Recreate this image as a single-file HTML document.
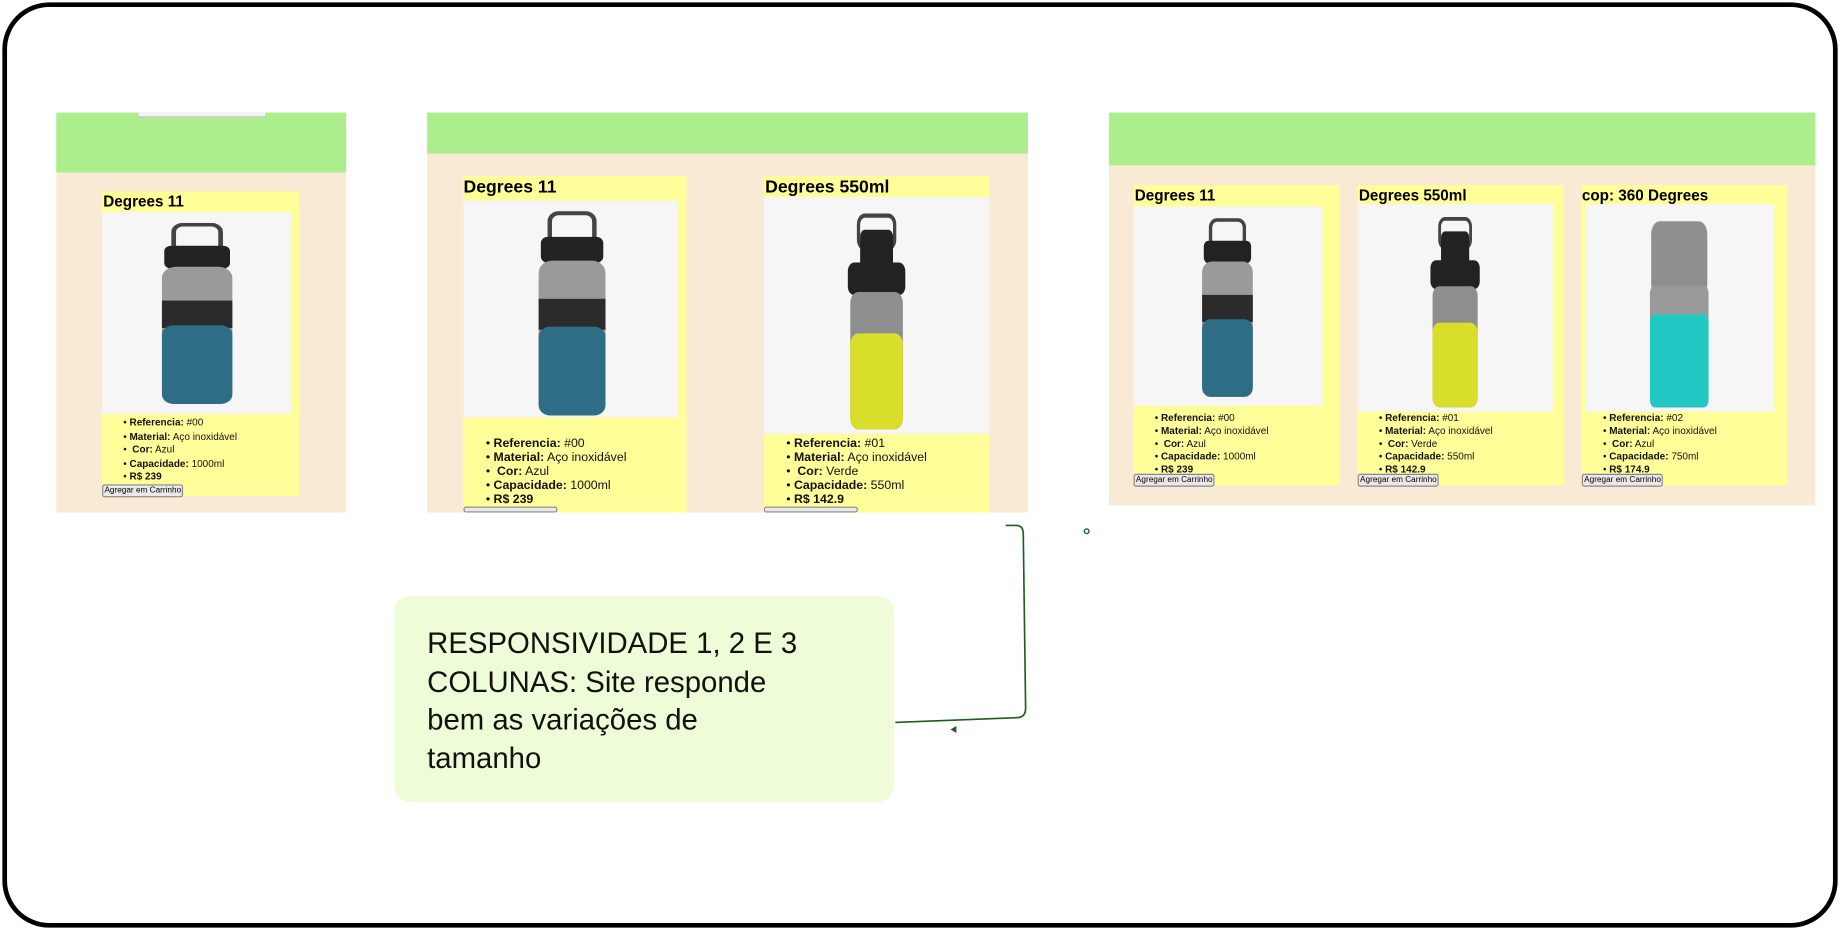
<!DOCTYPE html>
<html><head><meta charset="utf-8"><style>
html,body{margin:0;padding:0;background:#fff;}
body{width:1840px;height:930px;overflow:hidden;position:relative;font-family:"Liberation Sans",sans-serif;}
#s{position:absolute;left:0;top:0;width:1568px;height:793px;transform-origin:0 0;transform:scale(1.17347,1.17276);}
.a{position:absolute;box-sizing:border-box;}
.frame{left:2px;top:2px;width:1564px;height:789px;border:4px solid #000;border-radius:40px;}
.bg{background:#f9ead6;}
.gr{background:#abee8b;}
.card{background:#fffe98;}
.img{background:#f6f6f6;}
.t{font-weight:bold;color:#000;white-space:nowrap;}
ul{margin:0;padding:0;list-style:none;}
li{white-space:nowrap;color:#111;}
li:before{content:"• ";}
.btn{background:#e9e9e9;border:1px solid #888;border-radius:2px;font-size:7px;white-space:nowrap;padding:0 1px;line-height:9px;}
svg{position:absolute;}
</style></head><body><div id="s">
<div class="a frame"></div>

<!-- panel 1 -->
<div class="a bg" style="left:48px;top:96px;width:247px;height:341px"></div>
<div class="a gr" style="left:48px;top:96px;width:247px;height:51px"></div>
<div class="a" style="left:118px;top:96px;width:108px;height:3px;background:#f4f4f4;box-shadow:0 1px 2px #ccc"></div>
<div class="a card" style="left:87px;top:163px;width:168px;height:260px"></div>
<div class="a t" style="left:88px;top:164px;font-size:13px">Degrees 11</div>
<div class="a img" style="left:87px;top:181px;width:161px;height:172px"></div>
<svg style="left:118px;top:190px" width="100" height="156" viewBox="0 0 100 200" preserveAspectRatio="none"><rect x="30" y="2" width="40" height="30" rx="8" fill="none" stroke="#444" stroke-width="4"/><rect x="22" y="25" width="56" height="25" rx="6" fill="#222"/><rect x="20" y="48" width="60" height="150" rx="12" fill="#9a9a9a"/><rect x="20" y="85" width="60" height="30" fill="#2b2b2b"/><rect x="20" y="112" width="60" height="86" rx="10" fill="#2f6d86"/></svg>
<ul class="a" style="left:105px;top:355px;font-size:8.5px;line-height:11.5px">
<li><b>Referencia:</b> #00</li><li><b>Material:</b> Aço inoxidável</li><li>&nbsp;<b>Cor:</b> Azul</li><li><b>Capacidade:</b> 1000ml</li><li><b>R$ 239</b></li></ul>
<div class="a btn" style="left:87px;top:413px">Agregar em Carrinho</div>

<!-- panel 2 -->
<div class="a bg" style="left:364px;top:96px;width:512px;height:341px"></div>
<div class="a gr" style="left:364px;top:96px;width:512px;height:35px"></div>
<div class="a card" style="left:395px;top:150px;width:190px;height:287px"></div>
<div class="a t" style="left:395px;top:151px;font-size:15px">Degrees 11</div>
<div class="a img" style="left:395px;top:171px;width:183px;height:185px"></div>
<svg style="left:440px;top:180px" width="95" height="176" viewBox="0 0 100 200" preserveAspectRatio="none"><rect x="30" y="2" width="40" height="30" rx="8" fill="none" stroke="#444" stroke-width="4"/><rect x="22" y="25" width="56" height="25" rx="6" fill="#222"/><rect x="20" y="48" width="60" height="150" rx="12" fill="#9a9a9a"/><rect x="20" y="85" width="60" height="30" fill="#2b2b2b"/><rect x="20" y="112" width="60" height="86" rx="10" fill="#2f6d86"/></svg>
<ul class="a" style="left:414px;top:372px;font-size:10.5px;line-height:12px">
<li><b>Referencia:</b> #00</li><li><b>Material:</b> Aço inoxidável</li><li>&nbsp;<b>Cor:</b> Azul</li><li><b>Capacidade:</b> 1000ml</li><li><b>R$ 239</b></li></ul>
<div class="a btn" style="left:395px;top:432px;height:5px;overflow:hidden;width:80px"></div>
<div class="a card" style="left:651px;top:150px;width:192px;height:287px"></div>
<div class="a t" style="left:652px;top:151px;font-size:15px">Degrees 550ml</div>
<div class="a img" style="left:651px;top:168px;width:192px;height:202px"></div>
<svg style="left:712px;top:182px" width="70" height="186" viewBox="0 0 100 200" preserveAspectRatio="none"><rect x="28" y="2" width="44" height="30" rx="8" fill="none" stroke="#444" stroke-width="4"/><rect x="30" y="15" width="40" height="45" rx="6" fill="#222"/><rect x="15" y="45" width="70" height="30" rx="8" fill="#222"/><rect x="18" y="72" width="64" height="126" rx="10" fill="#8e8e8e"/><rect x="18" y="110" width="64" height="88" rx="10" fill="#d9de2a"/></svg>
<ul class="a" style="left:670px;top:372px;font-size:10.5px;line-height:12px">
<li><b>Referencia:</b> #01</li><li><b>Material:</b> Aço inoxidável</li><li>&nbsp;<b>Cor:</b> Verde</li><li><b>Capacidade:</b> 550ml</li><li><b>R$ 142.9</b></li></ul>
<div class="a btn" style="left:651px;top:432px;height:5px;overflow:hidden;width:80px"></div>

<!-- panel 3 -->
<div class="a bg" style="left:945px;top:96px;width:602px;height:335px"></div>
<div class="a gr" style="left:945px;top:96px;width:602px;height:45px"></div>
<div class="a card" style="left:966px;top:158px;width:176px;height:256px"></div>
<div class="a t" style="left:967px;top:159px;font-size:13px">Degrees 11</div>
<div class="a img" style="left:966px;top:176px;width:161px;height:170px"></div>
<svg style="left:1010px;top:186px" width="72" height="154" viewBox="0 0 100 200" preserveAspectRatio="none"><rect x="30" y="2" width="40" height="30" rx="8" fill="none" stroke="#444" stroke-width="4"/><rect x="22" y="25" width="56" height="25" rx="6" fill="#222"/><rect x="20" y="48" width="60" height="150" rx="12" fill="#9a9a9a"/><rect x="20" y="85" width="60" height="30" fill="#2b2b2b"/><rect x="20" y="112" width="60" height="86" rx="10" fill="#2f6d86"/></svg>
<ul class="a" style="left:984px;top:351px;font-size:8.5px;line-height:11px">
<li><b>Referencia:</b> #00</li><li><b>Material:</b> Aço inoxidável</li><li>&nbsp;<b>Cor:</b> Azul</li><li><b>Capacidade:</b> 1000ml</li><li><b>R$ 239</b></li></ul>
<div class="a btn" style="left:966px;top:404px">Agregar em Carrinho</div>

<div class="a card" style="left:1157px;top:158px;width:176px;height:256px"></div>
<div class="a t" style="left:1158px;top:159px;font-size:13px">Degrees 550ml</div>
<div class="a img" style="left:1157px;top:174px;width:167px;height:177px"></div>
<svg style="left:1210px;top:185px" width="60" height="164" viewBox="0 0 100 200" preserveAspectRatio="none"><rect x="28" y="2" width="44" height="30" rx="8" fill="none" stroke="#444" stroke-width="4"/><rect x="30" y="15" width="40" height="45" rx="6" fill="#222"/><rect x="15" y="45" width="70" height="30" rx="8" fill="#222"/><rect x="18" y="72" width="64" height="126" rx="10" fill="#8e8e8e"/><rect x="18" y="110" width="64" height="88" rx="10" fill="#d9de2a"/></svg>
<ul class="a" style="left:1175px;top:351px;font-size:8.5px;line-height:11px">
<li><b>Referencia:</b> #01</li><li><b>Material:</b> Aço inoxidável</li><li>&nbsp;<b>Cor:</b> Verde</li><li><b>Capacidade:</b> 550ml</li><li><b>R$ 142.9</b></li></ul>
<div class="a btn" style="left:1157px;top:404px">Agregar em Carrinho</div>

<div class="a card" style="left:1348px;top:158px;width:175px;height:256px"></div>
<div class="a t" style="left:1348px;top:159px;font-size:13px">cop: 360 Degrees</div>
<div class="a img" style="left:1351px;top:174px;width:161px;height:177px"></div>
<svg style="left:1405px;top:187px" width="52" height="162" viewBox="0 0 100 200" preserveAspectRatio="none"><rect x="4" y="2" width="92" height="80" rx="14" fill="#8f8f8f"/><rect x="2" y="70" width="96" height="128" rx="8" fill="#9a9a9a"/><rect x="2" y="100" width="96" height="98" rx="8" fill="#22c8c3"/></svg>
<ul class="a" style="left:1366px;top:351px;font-size:8.5px;line-height:11px">
<li><b>Referencia:</b> #02</li><li><b>Material:</b> Aço inoxidável</li><li>&nbsp;<b>Cor:</b> Azul</li><li><b>Capacidade:</b> 750ml</li><li><b>R$ 174.9</b></li></ul>
<div class="a btn" style="left:1348px;top:404px">Agregar em Carrinho</div>

<!-- connector -->
<svg style="left:0;top:0" width="1568" height="793"><path d="M857,448 L866,448 Q872,448 872,455 L874,604 Q874,612 866,612 L763,616" fill="none" stroke="#1b5e20" stroke-width="1.4"/><path d="M810,622 L815,619 L815,625 Z" fill="#1b5e20"/><circle cx="926" cy="453" r="2" fill="none" stroke="#1b5e20" stroke-width="1.2"/></svg>

<!-- note -->
<div class="a" style="left:336px;top:508px;width:426px;height:176px;background:#eefcd8;border-radius:14px"></div>
<div class="a" style="left:364px;top:533px;width:380px;font-size:25px;line-height:32.5px;color:#111;white-space:nowrap;font-family:'Liberation Sans',sans-serif">RESPONSIVIDADE 1, 2 E 3<br>COLUNAS: Site responde<br>bem as variações de<br>tamanho</div>
</div></body></html>
